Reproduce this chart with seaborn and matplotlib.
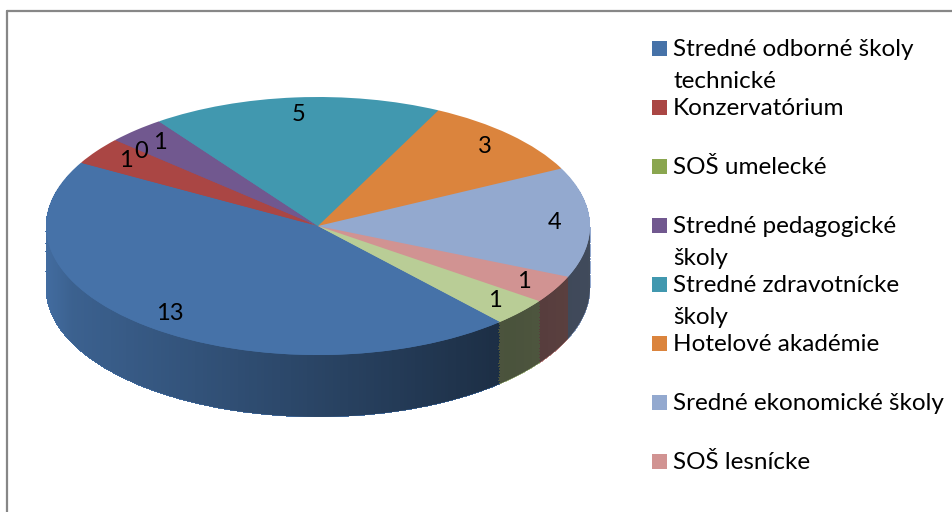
import matplotlib
matplotlib.use("Agg")
import matplotlib.pyplot as plt
from matplotlib.lines import Line2D
from matplotlib.patches import Polygon, Rectangle
import numpy as np
import seaborn as sns

# data
categories = ['Stredné odborné školy technické', 'Konzervatórium', 'SOŠ umelecké',
              'Stredné pedagogické školy', 'Stredné zdravotnícke školy',
              'Hotelové akadémie', 'Sredné ekonomické školy', 'SOŠ lesnícke', 'iné']
values = [13, 1, 0, 1, 5, 3, 4, 1, 1]
colors = ['#4672A8', '#AA4644', '#8AA64F', '#71588F', '#4198AF',
          '#DB843D', '#93A9CF', '#D19392', '#B9CD96']
# legend as shown (the 9th entry is cut off in the picture)
legend_labels = ['Stredné odborné školy\ntechnické', 'Konzervatórium', 'SOŠ umelecké',
                 'Stredné pedagogické\nškoly', 'Stredné zdravotnícke\nškoly',
                 'Hotelové akadémie', 'Sredné ekonomické školy', 'SOŠ lesnícke']

sns.set_theme(style="white")
plt.rcParams['font.family'] = ['Lato', 'DejaVu Sans']

W, H = 952, 512
fig = plt.figure(figsize=(W / 100, H / 100), dpi=100)
ax = fig.add_axes([0, 0, 1, 1])

start = -48
depth = 0.48
n_layers = 40

# side of the 3d pie: stack of pies pushed down
for k in range(n_layers, 0, -1):
    ax.pie(values, colors=colors, startangle=start, counterclock=False,
           center=(0, -depth * k / n_layers),
           wedgeprops=dict(linewidth=0, antialiased=False, zorder=1))

# shading of the side, darker towards the right
t = np.linspace(np.pi, 2 * np.pi, 300)
side = np.concatenate([np.column_stack([np.cos(t), np.sin(t)]),
                       np.column_stack([np.cos(t[::-1]), np.sin(t[::-1]) - depth])])
clip = Polygon(side, closed=True, transform=ax.transData, facecolor='none', edgecolor='none')
ax.add_patch(clip)
gx = np.linspace(-1, 1, 400)
alpha = np.interp(gx, [-1, -0.9, 0, 0.7, 1], [0.05, 0.15, 0.4, 0.6, 0.56])
shade = np.zeros((2, gx.size, 4))
shade[..., 3] = alpha
img = ax.imshow(shade, extent=(-1, 1, -1 - depth, 0), aspect='auto', zorder=2,
                interpolation='bilinear')
img.set_clip_path(clip)

# top of the pie with data labels
wedges, texts = ax.pie(values, colors=colors, startangle=start, counterclock=False,
                       labels=[str(v) for v in values], labeldistance=0.87,
                       wedgeprops=dict(linewidth=0, zorder=3),
                       textprops=dict(fontsize=17, color='black', zorder=5))
for tx in texts:
    tx.set_horizontalalignment('center')

# pixel mapping: center (318, 226), rx 272, ry 129
cx, cy, rx, ry = 318, 226, 272, 129
ax.set_aspect('auto')
ax.set_xlim(-cx / rx, (W - cx) / rx)
ax.set_ylim(-(H - cy) / ry, cy / ry)
ax.axis('off')

# legend, drawn like Excel does it (fixed slots)
for i, lab in enumerate(legend_labels):
    top = 41 + 59 * i
    fig.patches.append(Rectangle((652 / W, 1 - (top + 15) / H), 15 / W, 15 / H,
                                 transform=fig.transFigure, facecolor=colors[i],
                                 edgecolor='none'))
    for j, line in enumerate(lab.split('\n')):
        fig.text(673 / W, 1 - (top + 15 + 32 * j) / H, line, fontsize=17.5,
                 color='black', va='baseline', ha='left')

# chart border
fig.add_artist(Line2D([7 / W, 1], [1 - 10.5 / H, 1 - 10.5 / H], transform=fig.transFigure,
                      color='#878787', lw=1.6))
fig.add_artist(Line2D([7 / W, 7 / W], [0, 1 - 10.5 / H], transform=fig.transFigure,
                      color='#878787', lw=1.6))

fig.savefig('out.png', dpi=100)
